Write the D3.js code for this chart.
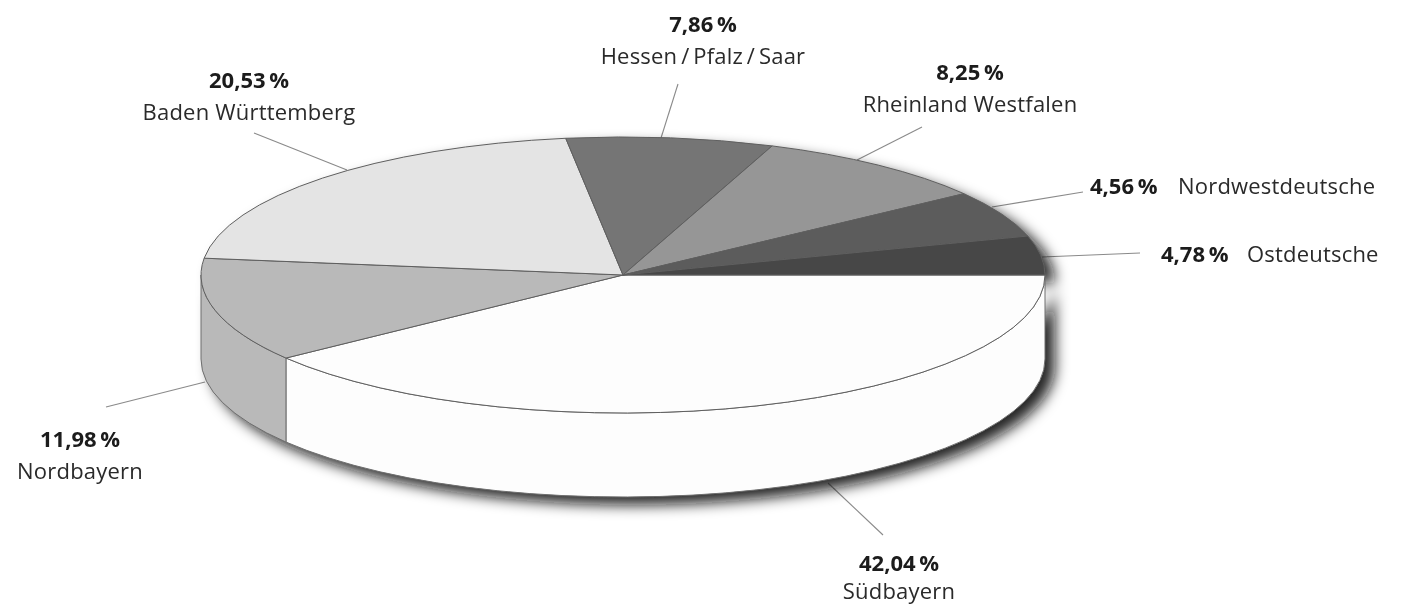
<!DOCTYPE html>
<html><head><meta charset="utf-8">
<script src="https://cdn.jsdelivr.net/npm/d3@7/dist/d3.min.js"></script>
<style>html,body{margin:0;padding:0;background:#fff}svg{display:block}text{font-family:"Open Sans",sans-serif;fill:#2a2a2a;font-size:22px;letter-spacing:.2px}.v{font-weight:700;fill:#1a1a1a;letter-spacing:0}</style>
</head><body><svg id="c" width="1414" height="606"></svg>
<script>
// Order: clockwise from the right-hand edge of the disc
const regions = ["Südbayern","Nordbayern","Baden Württemberg","Hessen\u2009/\u2009Pfalz\u2009/\u2009Saar","Rheinland Westfalen","Nordwestdeutsche","Ostdeutsche"];
const printedShares = ["42,04\u2009%","11,98\u2009%","20,53\u2009%","7,86\u2009%","8,25\u2009%","4,56\u2009%","4,78\u2009%"];
const drawnSweeps = [143,44,75.2,28.5,33.2,19.7,16.4];
const greys = ["#fdfdfd","#b9b9b9","#e4e4e4","#757575","#969696","#5b5b5b","#464646"];

// Layout only
const cx=623, cy=275, rx=422, ry=138, depth=84;
const labelBoxes = [
 {x:899,y1:571,y2:599,a:"middle",line:[828,483,883,535]},
 {x:80,y1:447,y2:479,a:"middle",line:[205,382,106,407]},
 {x:249,y1:88,y2:120,a:"middle",line:[347,170,254,133]},
 {x:703,y1:32,y2:64,a:"middle",line:[661,138,678,84]},
 {x:970,y1:80,y2:112,a:"middle",line:[857,160,922,127]},
 {x:1090,y1:194,x2:1178,y2:194,a:"start",line:[992,207,1083,192]},
 {x:1161,y1:262,x2:1247,y2:262,a:"start",line:[1042,257,1140,253]}
];

const svg=d3.select("#c");
const defs=svg.append("defs");
defs.append("filter").attr("id","sh").attr("x","-10%").attr("y","-20%").attr("width","120%").attr("height","140%")
  .append("feGaussianBlur").attr("stdDeviation",7);
defs.append("filter").attr("id","soft").append("feGaussianBlur").attr("stdDeviation",0.4);

const root=svg.append("g").attr("filter","url(#soft)");
const arcs=d3.pie().value(d=>d).sort(null).startAngle(Math.PI/2).endAngle(Math.PI/2+2*Math.PI)(drawnSweeps);
const pt=(a,dy=0)=>[cx+rx*Math.sin(a),cy-ry*Math.cos(a)+dy];

// leaders under the disc
root.append("g").selectAll("line").data(labelBoxes).join("line")
  .attr("x1",d=>d.line[0]).attr("y1",d=>d.line[1]).attr("x2",d=>d.line[2]).attr("y2",d=>d.line[3])
  .attr("stroke","#8a8a8a").attr("stroke-width",1.1);

// cast shadow
const R=Math.PI/2, L=3*Math.PI/2;
function sidePath(a0,a1){
  const p0=pt(a0),p1=pt(a1),q0=pt(a0,depth),q1=pt(a1,depth);
  return `M${p0}A${rx},${ry} 0 0 1 ${p1}L${q1}A${rx},${ry} 0 0 0 ${q0}Z`;
}
root.append("g").attr("filter","url(#sh)").attr("transform","translate(10,8)").append("path")
  .attr("d",sidePath(R,L)+`M${pt(L)}A${rx},${ry} 0 0 1 ${pt(R)}Z`).attr("fill","#111").attr("fill-opacity",.9);

// side wall
root.append("g").selectAll("path").data(arcs.filter(d=>d.startAngle<L)).join("path")
  .attr("d",d=>sidePath(Math.max(d.startAngle,R),Math.min(d.endAngle,L)))
  .attr("fill",d=>greys[d.index]).attr("stroke","#6e6e6e").attr("stroke-width",1);

// top face
const arc=d3.arc().innerRadius(0).outerRadius(rx);
root.append("g").attr("transform",`translate(${cx},${cy}) scale(1,${ry/rx})`)
  .selectAll("path").data(arcs).join("path")
  .attr("d",arc).attr("fill",d=>greys[d.index])
  .attr("stroke","#5f5f5f").attr("stroke-width",1).attr("vector-effect","non-scaling-stroke");

// labels
const g=root.append("g");
labelBoxes.forEach((b,i)=>{
  g.append("text").attr("class","v").attr("x",b.x).attr("y",b.y1).attr("text-anchor",b.a).text(printedShares[i]);
  g.append("text").attr("x",b.x2!==undefined?b.x2:b.x).attr("y",b.y2).attr("text-anchor",b.a).text(regions[i]);
});
</script></body></html>
